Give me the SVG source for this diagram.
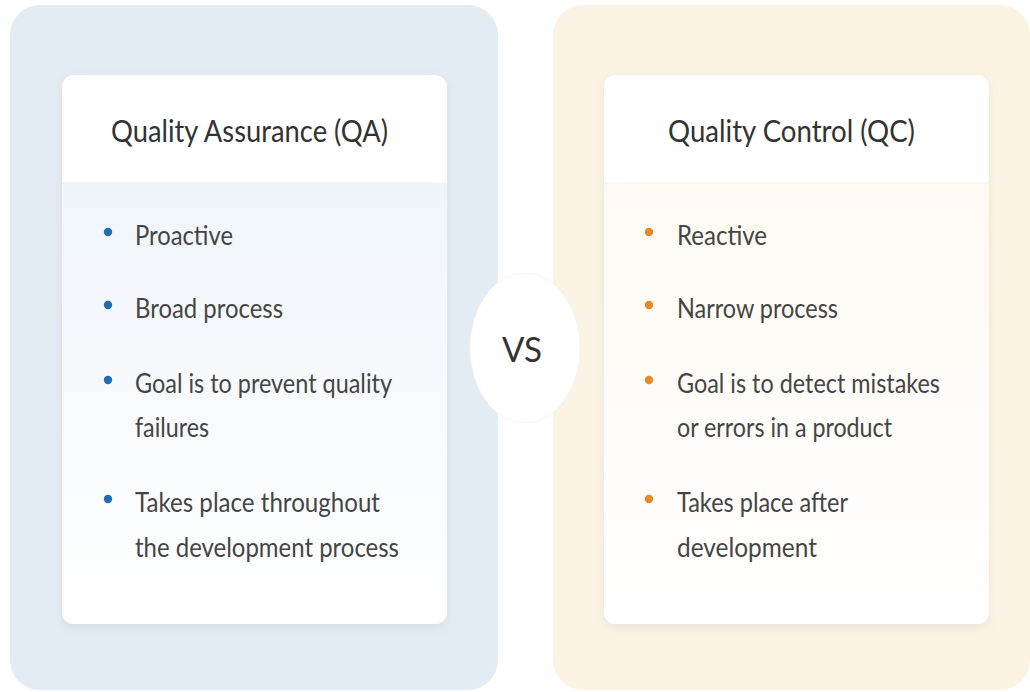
<svg xmlns="http://www.w3.org/2000/svg" width="1030" height="692" viewBox="0 0 1030 692">
<style>
.title{font-family:Lato,"Open Sans","Liberation Sans",sans-serif;font-size:30px;fill:#333;}
.item{font-family:Lato,"Open Sans","Liberation Sans",sans-serif;font-size:27px;fill:#454545;}
.vs{font-family:Lato,"Open Sans","Liberation Sans",sans-serif;font-size:35px;fill:#333;}
.card{fill:#ffffff;}
</style>
<defs>
<linearGradient id="gBlue" x1="0" y1="0" x2="0" y2="1">
<stop offset="0" stop-color="#f0f5fa"/>
<stop offset="1" stop-color="#ffffff"/>
</linearGradient>
<linearGradient id="gOrange" x1="0" y1="0" x2="0" y2="1">
<stop offset="0" stop-color="#fdf9f2"/>
<stop offset="1" stop-color="#ffffff"/>
</linearGradient>
<filter id="sh" x="-10%" y="-10%" width="120%" height="120%">
<feDropShadow dx="0" dy="4" stdDeviation="5" flood-color="#8090a0" flood-opacity="0.15"/>
</filter>
<clipPath id="clipL"><rect x="62" y="75" width="385" height="549" rx="12"/></clipPath>
<clipPath id="clipR"><rect x="604" y="75" width="385" height="549" rx="12"/></clipPath>
</defs>

<g id="qa-panel">
<rect x="10" y="5" width="488" height="685" rx="30" fill="#e3ebf3"/>
<rect class="card" x="62" y="75" width="385" height="549" rx="12" filter="url(#sh)"/>
<rect x="62" y="183" width="385" height="441" fill="url(#gBlue)" clip-path="url(#clipL)"/>
<line x1="62" y1="183" x2="447" y2="183" stroke="#eef2f6" stroke-width="1"/>
<text class="title" x="111" y="142" textLength="277" lengthAdjust="spacingAndGlyphs">Quality Assurance (QA)</text>
<g fill="#1f6db3">
<circle cx="108" cy="232" r="4.2"/>
<circle cx="108" cy="305" r="4.2"/>
<circle cx="108" cy="380" r="4.2"/>
<circle cx="108" cy="499" r="4.2"/>
</g>
<text class="item" x="135" y="245" textLength="98" lengthAdjust="spacingAndGlyphs">Proactive</text>
<text class="item" x="135" y="318" textLength="148" lengthAdjust="spacingAndGlyphs">Broad process</text>
<text class="item" x="135" y="393" textLength="257" lengthAdjust="spacingAndGlyphs">Goal is to prevent quality</text>
<text class="item" x="135" y="437" textLength="74" lengthAdjust="spacingAndGlyphs">failures</text>
<text class="item" x="135" y="512" textLength="245" lengthAdjust="spacingAndGlyphs">Takes place throughout</text>
<text class="item" x="135" y="557" textLength="264" lengthAdjust="spacingAndGlyphs">the development process</text>
</g>

<g id="qc-panel">
<rect x="553" y="5" width="477" height="685" rx="30" fill="#fbf3e3"/>
<rect class="card" x="604" y="75" width="385" height="549" rx="12" filter="url(#sh)"/>
<rect x="604" y="183" width="385" height="441" fill="url(#gOrange)" clip-path="url(#clipR)"/>
<line x1="604" y1="183" x2="989" y2="183" stroke="#f7f1e8" stroke-width="1"/>
<text class="title" x="668" y="142" textLength="247" lengthAdjust="spacingAndGlyphs">Quality Control (QC)</text>
<g fill="#e8892c">
<circle cx="649" cy="232" r="4.2"/>
<circle cx="649" cy="305" r="4.2"/>
<circle cx="649" cy="380" r="4.2"/>
<circle cx="649" cy="499" r="4.2"/>
</g>
<text class="item" x="677" y="245" textLength="90" lengthAdjust="spacingAndGlyphs">Reactive</text>
<text class="item" x="677" y="318" textLength="161" lengthAdjust="spacingAndGlyphs">Narrow process</text>
<text class="item" x="677" y="393" textLength="263" lengthAdjust="spacingAndGlyphs">Goal is to detect mistakes</text>
<text class="item" x="677" y="437" textLength="215" lengthAdjust="spacingAndGlyphs">or errors in a product</text>
<text class="item" x="677" y="512" textLength="171" lengthAdjust="spacingAndGlyphs">Takes place after</text>
<text class="item" x="677" y="557" textLength="140" lengthAdjust="spacingAndGlyphs">development</text>
</g>

<g id="vs-node">
<ellipse cx="525" cy="348" rx="55" ry="75" fill="#ffffff" stroke="#f4f4f4" stroke-width="1"/>
<text class="vs" x="502" y="362" textLength="40" lengthAdjust="spacingAndGlyphs">VS</text>
</g>

<g id="connectors"></g>
</svg>
